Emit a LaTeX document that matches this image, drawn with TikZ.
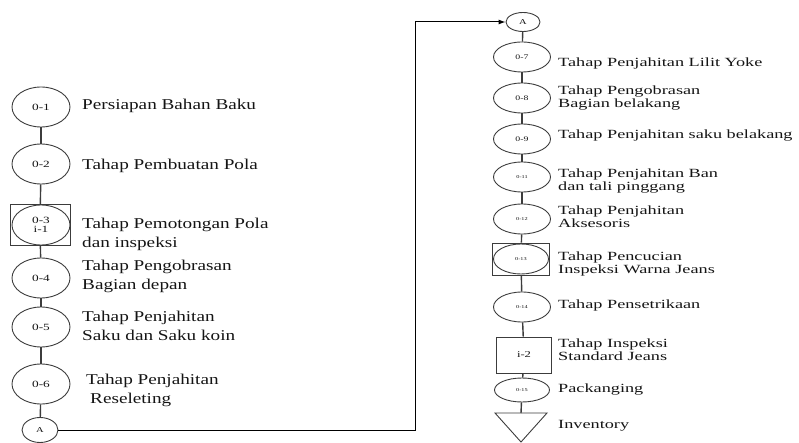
\documentclass[tikz,border=0pt]{standalone}
\usepackage{fontspec}
\setmainfont{Liberation Serif}
\newfontfamily\leftfont[FakeStretch=1.28]{Liberation Serif}
\newfontfamily\rightfont[FakeStretch=1.46]{Liberation Serif}
\newfontfamily\tagfont[FakeStretch=1.4]{Liberation Serif}
\usetikzlibrary{arrows.meta,shapes.geometric}
\definecolor{linegray}{RGB}{60,60,60}
\definecolor{textgray}{RGB}{20,20,20}

\begin{document}
\begin{tikzpicture}[x=1pt,y=-1pt]
\tikzset{
  opnode/.style={ellipse,draw=linegray,line width=0.9pt,inner sep=0pt,align=center,text=textgray},
  bigop/.style={opnode,minimum width=58pt,minimum height=40pt,font=\tagfont\fontsize{9.5}{10}\selectfont},
  smallop/.style={opnode,minimum width=57pt,minimum height=30pt,font=\tagfont\fontsize{7}{7}\selectfont},
  tinyop/.style={opnode,minimum width=57pt,minimum height=30pt,font=\tagfont\fontsize{4.5}{4.5}\selectfont},
  connnode/.style={opnode,font=\tagfont\fontsize{7.5}{7.5}\selectfont},
  inspbox/.style={rectangle,draw=linegray,line width=0.9pt,inner sep=0pt,text=textgray},
  leftlabel/.style={anchor=west,align=left,text=textgray,inner sep=0pt,font=\leftfont\fontsize{15}{19}\selectfont},
  rightlabel/.style={anchor=west,align=left,text=textgray,inner sep=0pt,font=\rightfont\fontsize{12.5}{13}\selectfont},
  stepline/.style={draw=linegray,line width=1.4pt},
  flowline/.style={draw=black,line width=1pt,-{Latex[length=7pt,width=5pt]}}
}
\useasboundingbox (0,0) rectangle (799,443);
\node[bigop] (n_O1) at (41,107) {0-1};
\node[bigop] (n_O2) at (41,164) {0-2};
\node[inspbox,minimum width=60pt,minimum height=41pt] (n_O3box) at (40,225) {};
\node[bigop] (n_O3) at (41,225) {0-3\\[-1pt]i-1};
\node[bigop] (n_O4) at (41,278) {0-4};
\node[bigop] (n_O5) at (41,327) {0-5};
\node[bigop] (n_O6) at (41,384) {0-6};
\node[connnode,minimum width=36pt,minimum height=25pt] (n_A1) at (40,430) {A};
\node[connnode,minimum width=34pt,minimum height=19pt] (n_A2) at (523,22) {A};
\node[smallop] (n_O7) at (522,57) {0-7};
\node[smallop] (n_O8) at (522,98) {0-8};
\node[smallop] (n_O9) at (522,139) {0-9};
\node[tinyop] (n_O11) at (522,177) {0-11};
\node[tinyop] (n_O12) at (522,219) {0-12};
\node[inspbox,minimum width=57pt,minimum height=32pt] (n_O13box) at (521,259) {};
\node[tinyop,minimum width=55pt] (n_O13) at (521,259) {0-13};
\node[tinyop] (n_O14) at (522,307) {0-14};
\node[inspbox,minimum width=55pt,minimum height=36pt,font=\tagfont\fontsize{9}{9}\selectfont] (n_I2) at (524,355) {i-2};
\node[tinyop,minimum width=55pt,minimum height=24pt] (n_O15) at (522,390) {0-15};
\coordinate (n_inv) at (521,413);
\coordinate (c_bend) at (415,22);
\draw[draw=linegray,line width=0.9pt] (495,413) -- (547,413) -- (521,442) -- cycle;
\node[leftlabel] (t_O1) at (82,106) {Persiapan Bahan Baku};
\node[leftlabel] (t_O2) at (82,166) {Tahap Pembuatan Pola};
\node[leftlabel] (t_O3) at (82,234) {Tahap Pemotongan Pola\\dan inspeksi};
\node[leftlabel] (t_O4) at (82,276) {Tahap Pengobrasan\\Bagian depan};
\node[leftlabel] (t_O5) at (82,326) {Tahap Penjahitan\\Saku dan Saku koin};
\node[leftlabel] (t_O6) at (86,390) {Tahap Penjahitan\\\hspace*{4pt}Reseleting};
\node[rightlabel] (t_O7) at (558,63) {Tahap Penjahitan Lilit Yoke};
\node[rightlabel] (t_O8) at (558,98) {Tahap Pengobrasan\\Bagian belakang};
\node[rightlabel] (t_O9) at (558,136) {Tahap Penjahitan saku belakang};
\node[rightlabel] (t_O11) at (558,181) {Tahap Penjahitan Ban\\dan tali pinggang};
\node[rightlabel] (t_O12) at (558,217) {Tahap Penjahitan\\Aksesoris};
\node[rightlabel] (t_O13) at (558,264) {Tahap Pencucian\\Inspeksi Warna Jeans};
\node[rightlabel] (t_O14) at (558,305) {Tahap Pensetrikaan};
\node[rightlabel] (t_I2) at (558,350) {Tahap Inspeksi\\Standard Jeans};
\node[rightlabel] (t_O15) at (558,390) {Packanging};
\node[rightlabel] (t_inv) at (558,426) {Inventory};
\draw[stepline] (n_O1) -- (n_O2);
\draw[stepline] (n_O2) -- (n_O3box);
\draw[stepline] (n_O3box) -- (n_O4);
\draw[stepline] (n_O4) -- (n_O5);
\draw[stepline] (n_O5) -- (n_O6);
\draw[stepline] (n_O6) -- (n_A1);
\draw[flowline] (n_A1.east) -| (c_bend) -- (n_A2.west);
\draw[stepline] (n_A2) -- (n_O7);
\draw[stepline] (n_O7) -- (n_O8);
\draw[stepline] (n_O8) -- (n_O9);
\draw[stepline] (n_O9) -- (n_O11);
\draw[stepline] (n_O11) -- (n_O12);
\draw[stepline] (n_O12) -- (n_O13box);
\draw[stepline] (n_O13box) -- (n_O14);
\draw[stepline] (n_O14) -- (n_I2);
\draw[stepline] (n_I2) -- (n_O15);
\draw[stepline] (n_O15) -- (n_inv);
\end{tikzpicture}
\end{document}
